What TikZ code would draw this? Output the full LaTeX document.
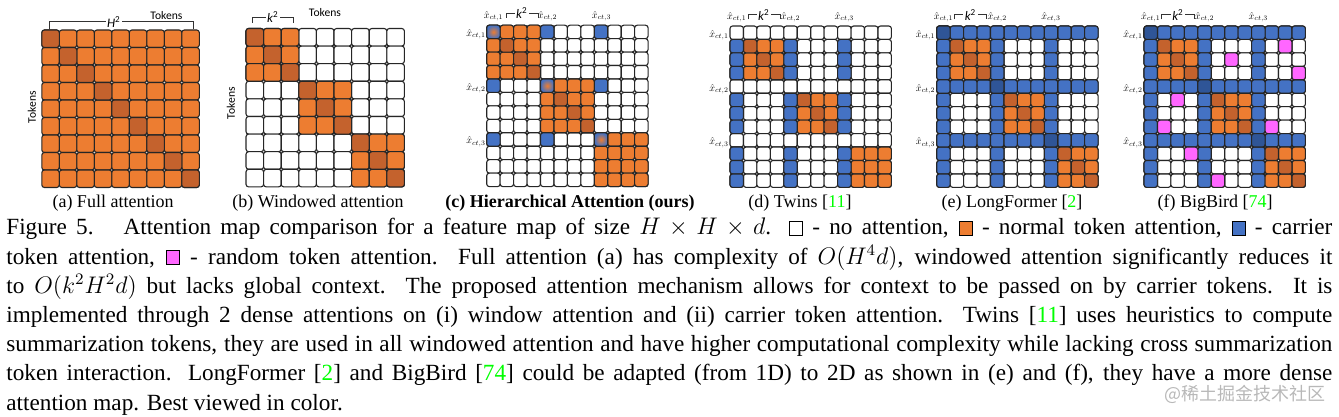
\documentclass[tikz,border=0pt]{standalone}
\usepackage{fontspec}
\setmainfont{Liberation Serif}
\newfontfamily\tokfont{Carlito}
\newfontfamily\cjkfont{Noto Sans CJK SC}
\usepackage{graphicx}
\usetikzlibrary{positioning}

\definecolor{tokorange}{HTML}{ED7D31}
\definecolor{tokdark}{HTML}{C4622D}
\definecolor{carblue}{HTML}{4472C4}
\definecolor{cardark}{HTML}{2F5597}
\definecolor{randpink}{HTML}{FF66FF}
\definecolor{refgreen}{rgb}{0,1,0}

% small legend squares and helpers for the caption
\newcommand{\legbox}[1]{{\setlength{\fboxsep}{0pt}\setlength{\fboxrule}{0.5pt}\fcolorbox{black}{#1}{\rule{0pt}{6.5pt}\hspace{6pt}}}}
\newcommand{\fullline}[1]{\makebox[663pt][s]{#1}}
\newcommand{\gref}[1]{[\textcolor{refgreen}{#1}]}
\newcommand{\ctlab}[1]{\scalebox{0.5}{$\hat{x}_{ct,#1}$}}

\begin{document}
\begin{tikzpicture}[
    x=0.5pt, y=-0.5pt,
    cell/.style={draw=black!85, line width=0.55pt, rounded corners=1.3pt},
    capline/.style={anchor=base west, inner sep=0pt, font=\fontsize{11.6}{14.6}\selectfont},
    subcap/.style={anchor=base, inner sep=0pt, font=\fontsize{9}{11}\selectfont},
    toklab/.style={inner sep=0pt, font=\tokfont\fontsize{5.8}{7}\selectfont},
    powlab/.style={inner sep=0.6pt, font=\tokfont\fontsize{6.5}{7}\selectfont\itshape},
    brace/.style={line width=0.5pt, draw=black!80}
]
    \useasboundingbox (0,0) rectangle (1339,417);

    % (a) full attention
    \begin{scope}[shift={(41.8,30)}, x=8.75pt, y=-8.75pt]
        \foreach \i in {0,...,8}
            \foreach \j in {0,...,8}
                \draw[cell, fill=tokorange] (\j,\i) rectangle ++(1,1);
        \foreach \k in {0,...,8}
            \draw[cell, fill=tokdark] (\k,\k) rectangle ++(1,1);
    \end{scope}
    \node[toklab] (tokTa) at (166.5,15.5) {Tokens};
    \node[toklab, rotate=90] (tokLa) at (32,107) {Tokens};
    \node[powlab] (h2) at (114,22) {H\textsuperscript{\upshape 2}};
    \coordinate (aL) at (49,29);
    \coordinate (aR) at (193,29);
    \draw[brace] (aL) |- (h2.west);
    \draw[brace] (h2.east) -| (aR);

    % (b) windowed attention
    \begin{scope}[shift={(246,28.5)}, x=8.8pt, y=-8.8pt]
        \foreach \i in {0,...,8}
            \foreach \j in {0,...,8}
                \draw[cell, fill=white] (\j,\i) rectangle ++(1,1);
        \foreach \w in {0,3,6}
            \foreach \i in {0,1,2}
                \foreach \j in {0,1,2}
                    \draw[cell, fill=tokorange] ({\w+\j},{\w+\i}) rectangle ++(1,1);
        \foreach \k in {0,...,8}
            \draw[cell, fill=tokdark] (\k,\k) rectangle ++(1,1);
    \end{scope}
    \node[toklab] (tokTb) at (325,13) {Tokens};
    \node[toklab, rotate=90] (tokLb) at (231,103) {Tokens};
    \node[powlab] (k2b) at (273,17.5) {k\textsuperscript{\upshape 2}};
    \coordinate (bL) at (252,23);
    \coordinate (bR) at (293,23);
    \draw[brace] (bL) |- (k2b.west);
    \draw[brace] (k2b.east) -| (bR);

    % (c) hierarchical attention
    \begin{scope}[shift={(486.7,25.2)}, x=6.725pt, y=-6.725pt]
        \foreach \i in {0,...,11}
            \foreach \j in {0,...,11}
                \draw[cell, fill=white] (\j,\i) rectangle ++(1,1);
        \foreach \w in {0,4,8}
            \foreach \i in {0,...,3}
                \foreach \j in {0,...,3}
                    \draw[cell, fill=tokorange] ({\w+\j},{\w+\i}) rectangle ++(1,1);
        \foreach \w in {0,4}
            \foreach \k in {1,2,3}
                \draw[cell, fill=tokdark] ({\w+\k},{\w+\k}) rectangle ++(1,1);
        \foreach \r/\c in {0/4,0/8,4/0,4/8,8/0,8/4}
            \draw[cell, fill=carblue] (\c,\r) rectangle ++(1,1);
        \foreach \w in {0,4,8}
            \draw[cell, inner color=tokorange, outer color=carblue] (\w,\w) rectangle ++(1,1);
    \end{scope}
    \node (cT1) at (493.4,16.3) {\ctlab{1}};
    \node (cT2) at (547.5,16.3) {\ctlab{2}};
    \node (cT3) at (601.5,16.3) {\ctlab{3}};
    \node[anchor=east, inner sep=0pt] (cL1) at (486,34) {\ctlab{1}};
    \node[anchor=east, inner sep=0pt] (cL2) at (486,88) {\ctlab{2}};
    \node[anchor=east, inner sep=0pt] (cL3) at (486,141.5) {\ctlab{3}};
    \node[powlab] (k2c) at (522,13.5) {k\textsuperscript{\upshape 2}};
    \coordinate (cBL) at (506,18);
    \coordinate (cBR) at (538,18);
    \draw[brace] (cBL) |- (k2c.west);
    \draw[brace] (k2c.east) -| (cBR);

    % (d) twins
    \begin{scope}[shift={(730,26)}, x=6.725pt, y=-6.725pt]
        \foreach \i in {0,...,11}
            \foreach \j in {0,...,11}
                \draw[cell, fill=white] (\j,\i) rectangle ++(1,1);
        \foreach \w in {0,4,8}
            \foreach \i in {1,2,3}
                \foreach \j in {1,2,3}
                    \draw[cell, fill=tokorange] ({\w+\j},{\w+\i}) rectangle ++(1,1);
        \foreach \w in {0,4}
            \foreach \k in {1,2,3}
                \draw[cell, fill=tokdark] ({\w+\k},{\w+\k}) rectangle ++(1,1);
        \foreach \c in {0,4,8}
            \foreach \r in {1,2,3,5,6,7,9,10,11}
                \draw[cell, fill=carblue] (\c,\r) rectangle ++(1,1);
    \end{scope}
    \node (dT1) at (736.7,17) {\ctlab{1}};
    \node (dT2) at (790.5,17) {\ctlab{2}};
    \node (dT3) at (844.3,17) {\ctlab{3}};
    \node[anchor=east, inner sep=0pt] (dL1) at (729,35) {\ctlab{1}};
    \node[anchor=east, inner sep=0pt] (dL2) at (729,89) {\ctlab{2}};
    \node[anchor=east, inner sep=0pt] (dL3) at (729,142.5) {\ctlab{3}};
    \node[powlab] (k2d) at (764,14.7) {k\textsuperscript{\upshape 2}};
    \coordinate (dBL) at (748.3,19.5);
    \coordinate (dBR) at (780,19.5);
    \draw[brace] (dBL) |- (k2d.west);
    \draw[brace] (k2d.east) -| (dBR);

    % (e) longformer
    \begin{scope}[shift={(936.7,26)}, x=6.725pt, y=-6.725pt]
        \foreach \i in {0,...,11}
            \foreach \j in {0,...,11}
                \draw[cell, fill=white] (\j,\i) rectangle ++(1,1);
        \foreach \k in {0,4,8}
            \foreach \m in {0,...,11} {
                \draw[cell, fill=carblue] (\m,\k) rectangle ++(1,1);
                \draw[cell, fill=carblue] (\k,\m) rectangle ++(1,1);
            }
        \foreach \k in {0,4,8}
            \draw[cell, fill=cardark] (\k,\k) rectangle ++(1,1);
        \foreach \w in {0,4,8}
            \foreach \i in {1,2,3}
                \foreach \j in {1,2,3}
                    \draw[cell, fill=tokorange] ({\w+\j},{\w+\i}) rectangle ++(1,1);
        \foreach \w in {0,4,8}
            \foreach \k in {1,2,3}
                \draw[cell, fill=tokdark] ({\w+\k},{\w+\k}) rectangle ++(1,1);
    \end{scope}
    \node (eT1) at (943.4,17) {\ctlab{1}};
    \node (eT2) at (997.2,17) {\ctlab{2}};
    \node (eT3) at (1051,17) {\ctlab{3}};
    \node[anchor=east, inner sep=0pt] (eL1) at (935.5,35) {\ctlab{1}};
    \node[anchor=east, inner sep=0pt] (eL2) at (935.5,89) {\ctlab{2}};
    \node[anchor=east, inner sep=0pt] (eL3) at (935.5,142.5) {\ctlab{3}};
    \node[powlab] (k2e) at (970.5,14.7) {k\textsuperscript{\upshape 2}};
    \coordinate (eBL) at (954,19.5);
    \coordinate (eBR) at (986.7,19.5);
    \draw[brace] (eBL) |- (k2e.west);
    \draw[brace] (k2e.east) -| (eBR);

    % (f) bigbird
    \begin{scope}[shift={(1144,26)}, x=6.725pt, y=-6.725pt]
        \foreach \i in {0,...,11}
            \foreach \j in {0,...,11}
                \draw[cell, fill=white] (\j,\i) rectangle ++(1,1);
        \foreach \k in {0,4,8}
            \foreach \m in {0,...,11} {
                \draw[cell, fill=carblue] (\m,\k) rectangle ++(1,1);
                \draw[cell, fill=carblue] (\k,\m) rectangle ++(1,1);
            }
        \foreach \k in {0,4,8}
            \draw[cell, fill=cardark] (\k,\k) rectangle ++(1,1);
        \foreach \w in {0,4,8}
            \foreach \i in {1,2,3}
                \foreach \j in {1,2,3}
                    \draw[cell, fill=tokorange] ({\w+\j},{\w+\i}) rectangle ++(1,1);
        \foreach \w in {0,4,8}
            \foreach \k in {1,2,3}
                \draw[cell, fill=tokdark] ({\w+\k},{\w+\k}) rectangle ++(1,1);
        % random tokens
        \foreach \r/\c in {1/10,2/6,3/11,5/2,7/1,7/9,9/3,11/5}
            \draw[cell, fill=randpink] (\c,\r) rectangle ++(1,1);
    \end{scope}
    \node (fT1) at (1150.7,17) {\ctlab{1}};
    \node (fT2) at (1204.5,17) {\ctlab{2}};
    \node (fT3) at (1258.3,17) {\ctlab{3}};
    \node[anchor=east, inner sep=0pt] (fL1) at (1143,35) {\ctlab{1}};
    \node[anchor=east, inner sep=0pt] (fL2) at (1143,89) {\ctlab{2}};
    \node[anchor=east, inner sep=0pt] (fL3) at (1143,142.5) {\ctlab{3}};
    \node[powlab] (k2f) at (1178,14.7) {k\textsuperscript{\upshape 2}};
    \coordinate (fBL) at (1161.7,19.5);
    \coordinate (fBR) at (1194.3,19.5);
    \draw[brace] (fBL) |- (k2f.west);
    \draw[brace] (k2f.east) -| (fBR);

    % sub-captions
    \node[subcap] (capa) at (113,207.5) {(a) Full attention};
    \node[subcap] (capb) at (318,207.5) {(b) Windowed attention};
    \node[subcap] (capc) at (570,207.5) {\textbf{(c) Hierarchical Attention (ours)}};
    \node[subcap] (capd) at (800,207.5) {(d) Twins \gref{11}};
    \node[subcap] (cape) at (1012,207.5) {(e) LongFormer \gref{2}};
    \node[subcap] (capf) at (1215,207.5) {(f) BigBird \gref{74}};

    % figure caption, one node per line
    \node[capline] (cap1) at (6,234.8) {\fullline{Figure 5.\hspace{6pt} Attention map comparison for a feature map of size $H \times H \times d$. \legbox{white} - no attention, \legbox{tokorange} - normal token attention, \legbox{carblue} - carrier}};
    \node[capline] (cap2) at (6,264) {\fullline{token attention, \legbox{randpink} - random token attention. Full attention (a) has complexity of $O(H^4d)$, windowed attention significantly reduces it}};
    \node[capline] (cap3) at (6,293.2) {\fullline{to $O(k^2H^2d)$ but lacks global context. The proposed attention mechanism allows for context to be passed on by carrier tokens. It is}};
    \node[capline] (cap4) at (6,322.4) {\fullline{implemented through 2 dense attentions on (i) window attention and (ii) carrier token attention. Twins \gref{11} uses heuristics to compute}};
    \node[capline] (cap5) at (6,351.6) {\fullline{summarization tokens, they are used in all windowed attention and have higher computational complexity while lacking cross summarization}};
    \node[capline] (cap6) at (6,380.8) {\fullline{token interaction. LongFormer \gref{2} and BigBird \gref{74} could be adapted (from 1D) to 2D as shown in (e) and (f), they have a more dense}};
    \node[capline] (cap7) at (6,410) {attention map. Best viewed in color.};

    % watermark
    \node[inner sep=0pt, text=black!28, font=\cjkfont\fontsize{9}{10}\selectfont] (mark) at (1245,394) {@稀土掘金技术社区};
\end{tikzpicture}
\end{document}
